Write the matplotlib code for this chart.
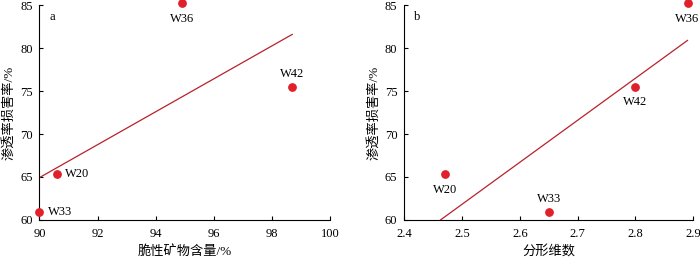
import matplotlib
matplotlib.use('Agg')
import matplotlib.pyplot as plt
import numpy as np

plt.rcParams['font.family'] = ['Liberation Serif', 'Noto Sans CJK SC']

# data
wells = ['W20', 'W33', 'W36', 'W42']
brittle = [90.6, 90.0, 94.9, 98.7]          # brittle mineral content, %
fractal = [2.47, 2.65, 2.89, 2.80]          # fractal dimension
damage = [65.3, 60.9, 85.2, 75.5]           # permeability damage rate, %

# label offsets (points) per well for each panel
offs_a = {'W20': (6, 0, 'left', 'center'), 'W33': (6, 0, 'left', 'center'),
          'W36': (0, -7, 'center', 'top'), 'W42': (0, 5, 'center', 'bottom')}
offs_b = {'W20': (0, -7, 'center', 'top'), 'W33': (0, 5, 'center', 'bottom'),
          'W36': (0, -7, 'center', 'top'), 'W42': (0, -7, 'center', 'top')}

dot_c = '#e0202a'
line_c = '#b8222a'

fig = plt.figure(figsize=(7, 2.58), dpi=100)
ax1 = fig.add_axes([0.0564, 0.1473, 0.415, 0.8333])
ax2 = fig.add_axes([0.5776, 0.1473, 0.4128, 0.8333])


def panel(ax, x, y, offs, xlim, xticks, xlabel, letter, xfmt):
    ax.scatter(x, y, s=28, color=dot_c, zorder=3, clip_on=False)
    k, b = np.polyfit(x, y, 1)
    x0 = max(xlim[0], (60 - b) / k)
    xs = np.array([x0, max(x)])
    ax.plot(xs, k * xs + b, color=line_c, lw=0.9)
    for w, xi, yi in zip(wells, x, y):
        dx, dy, ha, va = offs[w]
        ax.annotate(w, (xi, yi), xytext=(dx, dy), textcoords='offset points',
                    ha=ha, va=va, fontsize=9, annotation_clip=False)
    ax.set_xlim(*xlim)
    ax.set_ylim(60, 85)
    ax.set_xticks(xticks)
    ax.set_xticklabels([xfmt(t) for t in xticks])
    ax.set_yticks([60, 65, 70, 75, 80, 85])
    ax.spines['top'].set_visible(False)
    ax.spines['right'].set_visible(False)
    ax.tick_params(labelsize=9, length=3, width=0.8, direction='in')
    ax.tick_params(axis='x', pad=6)
    ax.tick_params(axis='y', pad=5)
    ax.set_xlabel(xlabel, fontsize=9.5, labelpad=3)
    ax.set_ylabel('渗透率损害率/%', fontsize=9.5, labelpad=3)
    ax.text(0.035, 0.97, letter, transform=ax.transAxes, fontsize=9, va='top')


panel(ax1, brittle, damage, offs_a, (90, 100), [90, 92, 94, 96, 98, 100],
      '脆性矿物含量/%', 'a', lambda t: '%d' % t)
panel(ax2, fractal, damage, offs_b, (2.4, 2.9), [2.4, 2.5, 2.6, 2.7, 2.8, 2.9],
      '分形维数', 'b', lambda t: '%.1f' % t)

fig.savefig('out.png', dpi=100)
